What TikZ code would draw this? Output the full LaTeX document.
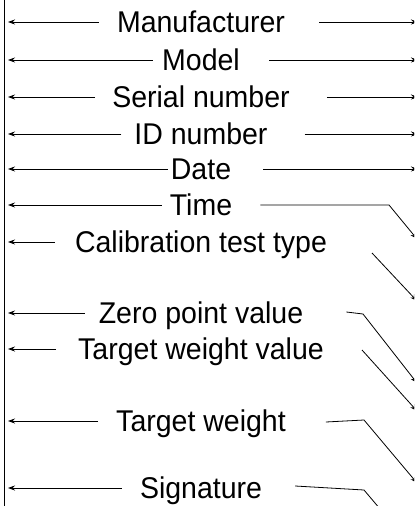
\documentclass[tikz,border=0pt]{standalone}
\usepackage{fontspec}
\setmainfont{Liberation Sans}[FakeStretch=0.95]
\usetikzlibrary{arrows.meta}
\newcommand\labfont{\fontsize{30bp}{32bp}\selectfont}
\tikzset{
  lbl/.style={font=\labfont, inner sep=0pt, text height=21.5bp, text depth=0bp, anchor=center},
  arr/.style={draw=black, line width=0.8pt, -{Stealth[length=7bp,width=5bp]}},
  ln/.style={draw=black, line width=0.8pt}
}
\begin{document}
\begin{tikzpicture}[x=1bp,y=-1bp]
\useasboundingbox (0,0) rectangle (414,506);
\clip (0,0) rectangle (414,506);
\coordinate (L) at (8,0);
\coordinate (R) at (418,0);
% left wall
\draw[ln] (4,-2) -- (4,508);
% labels
\node[lbl] (man) at (201,22) {Manufacturer};
\node[lbl] (mod) at (201,60) {Model};
\node[lbl] (ser) at (201,97) {Serial number};
\node[lbl] (idn) at (201,134) {ID number};
\node[lbl] (dat) at (201,169) {Date};
\node[lbl] (tim) at (201,205) {Time};
\node[lbl] (cal) at (201,242) {Calibration test type};
\node[lbl] (zer) at (201,313) {Zero point value};
\node[lbl] (twv) at (201,349) {Target weight value};
\node[lbl] (tw) at (201,421) {Target weight};
\node[lbl] (sig) at (201,488) {Signature};
% left arrows
\draw[arr] ([xshift=-18bp]man.west) -- (man.west -| L);
\draw[arr] ([xshift=-9bp]mod.west) -- (mod.west -| L);
\draw[arr] ([xshift=-17bp]ser.west) -- (ser.west -| L);
\draw[arr] ([xshift=-13bp]idn.west) -- (idn.west -| L);
\draw[arr] ([xshift=-3bp]dat.west) -- (dat.west -| L);
\draw[arr] ([xshift=-8bp]tim.west) -- (tim.west -| L);
\draw[arr] ([xshift=-20bp]cal.west) -- (cal.west -| L);
\draw[arr] ([xshift=-14bp]zer.west) -- (zer.west -| L);
\draw[arr] ([xshift=-22bp]twv.west) -- (twv.west -| L);
\draw[arr] ([xshift=-18bp]tw.west) -- (tw.west -| L);
\draw[arr] ([xshift=-18bp]sig.west) -- (sig.west -| L);
% right horizontal arrows
\draw[arr] ([xshift=34bp]man.east) -- (man.east -| R);
\draw[arr] ([xshift=29bp]mod.east) -- (mod.east -| R);
\draw[arr] ([xshift=37bp]ser.east) -- (ser.east -| R);
\draw[arr] ([xshift=37bp]idn.east) -- (idn.east -| R);
\draw[arr] ([xshift=32bp]dat.east) -- (dat.east -| R);
% right bent / diagonal arrows
\coordinate (timB) at (389,205);
\coordinate (timE) at (417,239);
\draw[arr] ([xshift=28bp]tim.east) -- (timB) -- (timE);
\coordinate (calS) at (372,253);
\coordinate (calE) at (417,301);
\draw[arr] (calS) -- (calE);
\coordinate (zerB) at (363,314);
\coordinate (zerE) at (417,383);
\draw[arr] ([xshift=43bp,yshift=1bp]zer.east) -- (zerB) -- (zerE);
\coordinate (twvS) at (362,350);
\coordinate (twvE) at (417,411);
\draw[arr] (twvS) -- (twvE);
\coordinate (twB) at (364,420);
\coordinate (twE) at (417,483);
\draw[arr] ([xshift=40bp,yshift=-1bp]tw.east) -- (twB) -- (twE);
\coordinate (sigB) at (364,490);
\coordinate (sigE) at (386,516);
\draw[ln] ([xshift=33bp,yshift=2bp]sig.east) -- (sigB) -- (sigE);
\end{tikzpicture}
\end{document}
